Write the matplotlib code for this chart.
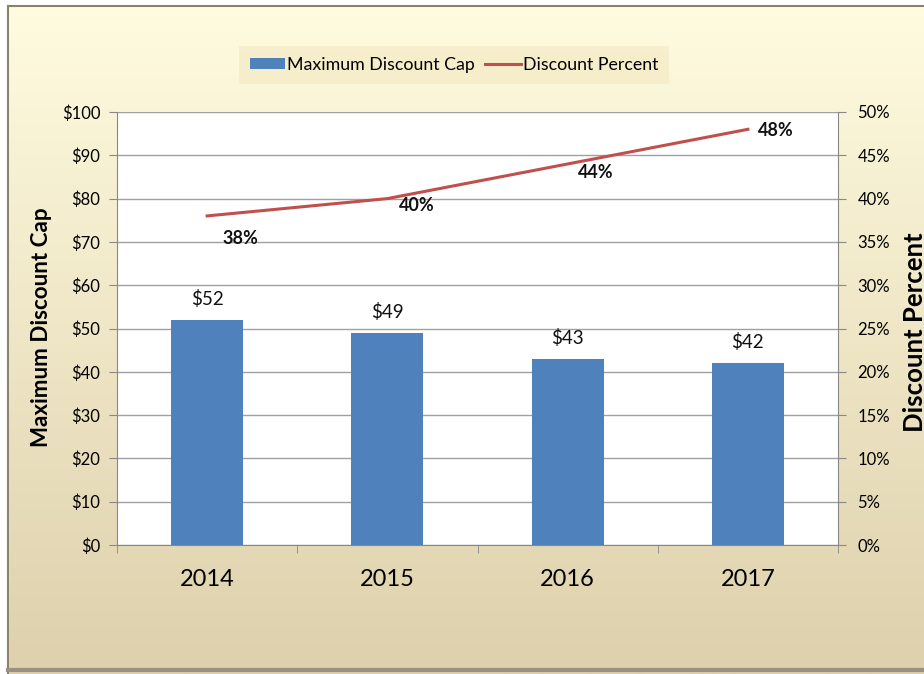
import matplotlib
matplotlib.use("Agg")
import matplotlib.pyplot as plt
import numpy as np
from matplotlib.patches import Rectangle, Patch
from matplotlib.lines import Line2D
from matplotlib.ticker import FuncFormatter, MultipleLocator

years = ["2014", "2015", "2016", "2017"]
discount_cap = [52, 49, 43, 42]
discount_pct = [38, 40, 44, 48]
bar_labels = ["$52", "$49", "$43", "$42"]
pct_labels = ["38%", "40%", "44%", "48%"]

plt.rcParams['font.family'] = ['Lato', 'DejaVu Sans']

fig = plt.figure(figsize=(9.24, 6.74), dpi=100)

# background gradient
bg = fig.add_axes([0, 0, 1, 1], zorder=-10)
bg.set_axis_off()
grad = np.linspace(0, 1, 256).reshape(-1, 1)
top = np.array([255, 252, 224]) / 255
bot = np.array([222, 208, 172]) / 255
img = top[None, None, :] * (1 - grad[:, :, None]) + bot[None, None, :] * grad[:, :, None]
bg.imshow(img, aspect='auto', extent=[0, 1, 0, 1], origin='upper')
bg.set_xlim(0, 1); bg.set_ylim(0, 1)
bg.add_patch(Rectangle((0, 0), 8/924, 1, color='white', zorder=2))
bg.add_patch(Rectangle((0, 1 - 6/674), 1, 6/674, color='white', zorder=2))
bg.plot([8/924, 8/924], [0, 1 - 6/674], color='#8a8270', lw=1.5, zorder=3)
bg.plot([8/924, 1], [1 - 6/674, 1 - 6/674], color='#8a8270', lw=1.5, zorder=3)
bg.plot([8/924, 1], [4/674, 4/674], color='#9a9080', lw=3, zorder=3)

ax = fig.add_axes([117/924, 1 - 545/674, (838 - 117)/924, (545 - 112)/674])
ax.set_facecolor('white')
x = np.arange(len(years))
ax.bar(x, discount_cap, width=0.4, color='#4F81BD', zorder=3)
for xi, v, lab in zip(x, discount_cap, bar_labels):
    ax.text(xi, v + 2.8, lab, ha='center', va='bottom', fontsize=13.5, color='#111111')
ax.set_xlim(-0.5, 3.5)
ax.set_ylim(0, 100)
ax.yaxis.set_major_locator(MultipleLocator(10))
ax.yaxis.set_major_formatter(FuncFormatter(lambda v, p: f"${v:.0f}"))
ax.grid(axis='y', color='#a0a0a0', lw=1, zorder=0)
ax.set_axisbelow(True)
ax.set_xticks(x)
ax.set_xticklabels(years, fontsize=17)
ax.set_xticks([-0.5, 0.5, 1.5, 2.5, 3.5], minor=True)
ax.tick_params(axis='x', which='major', length=0, pad=17)
ax.tick_params(axis='x', which='minor', length=6, color='#888888', direction='out')
ax.tick_params(axis='y', labelsize=12, length=6, color='#888888', pad=6)
for s in ['top', 'right']:
    ax.spines[s].set_visible(False)
for s in ['left', 'bottom']:
    ax.spines[s].set_color('#888888')

ax2 = ax.twinx()
ax2.plot(x, discount_pct, color='#C0504D', lw=2.2, zorder=4)
offsets = [(24, -16), (21, -5), (20, -6.5), (20, -0.7)]
for xi, v, lab, off in zip(x, discount_pct, pct_labels, offsets):
    ax2.annotate(lab, (xi, v), xytext=off, textcoords='offset points',
                 ha='center', va='center', fontsize=13, fontweight='bold', color='#111111')
ax2.set_ylim(0, 50)
ax2.yaxis.set_major_locator(MultipleLocator(5))
ax2.yaxis.set_major_formatter(FuncFormatter(lambda v, p: f"{v:.0f}%"))
ax2.tick_params(axis='y', labelsize=12, length=6, color='#888888', pad=8)
for s in ['top', 'left', 'bottom']:
    ax2.spines[s].set_visible(False)
ax2.spines['right'].set_color('#888888')

# axis titles as figure texts (pixel-placed, sized to match reference lengths)
H = 674.0
lt = fig.text(42/924, 1 - 327/H, "Maximum Discount Cap", rotation=90, ha='center',
              va='center', fontsize=16, fontweight='bold', rotation_mode='default')
rt = fig.text(903/924, 1 - 332/H, "Discount Percent", rotation=90, ha='left',
              va='center', fontsize=16, fontweight='bold', rotation_mode='default')
fig.canvas.draw()
r = fig.canvas.get_renderer()
for t, target in [(lt, 240.0), (rt, 200.0)]:
    h = t.get_window_extent(r).height
    t.set_fontsize(16 * target / h)

handles = [Patch(facecolor='#4F81BD', edgecolor='none'),
           Line2D([0], [0], color='#C0504D', lw=2.2)]
leg = fig.legend(handles, ["Maximum Discount Cap", "Discount Percent"],
                 loc='center', bbox_to_anchor=(454/924, 1 - 65/674), ncol=2,
                 fontsize=12.8, frameon=True, fancybox=False, handlelength=2.0,
                 handleheight=0.6, handletextpad=0.1, columnspacing=0.6,
                 borderpad=0.6)
leg.get_frame().set_facecolor('#f5ecc8')
leg.get_frame().set_edgecolor('none')

fig.savefig("out.png", dpi=100)
